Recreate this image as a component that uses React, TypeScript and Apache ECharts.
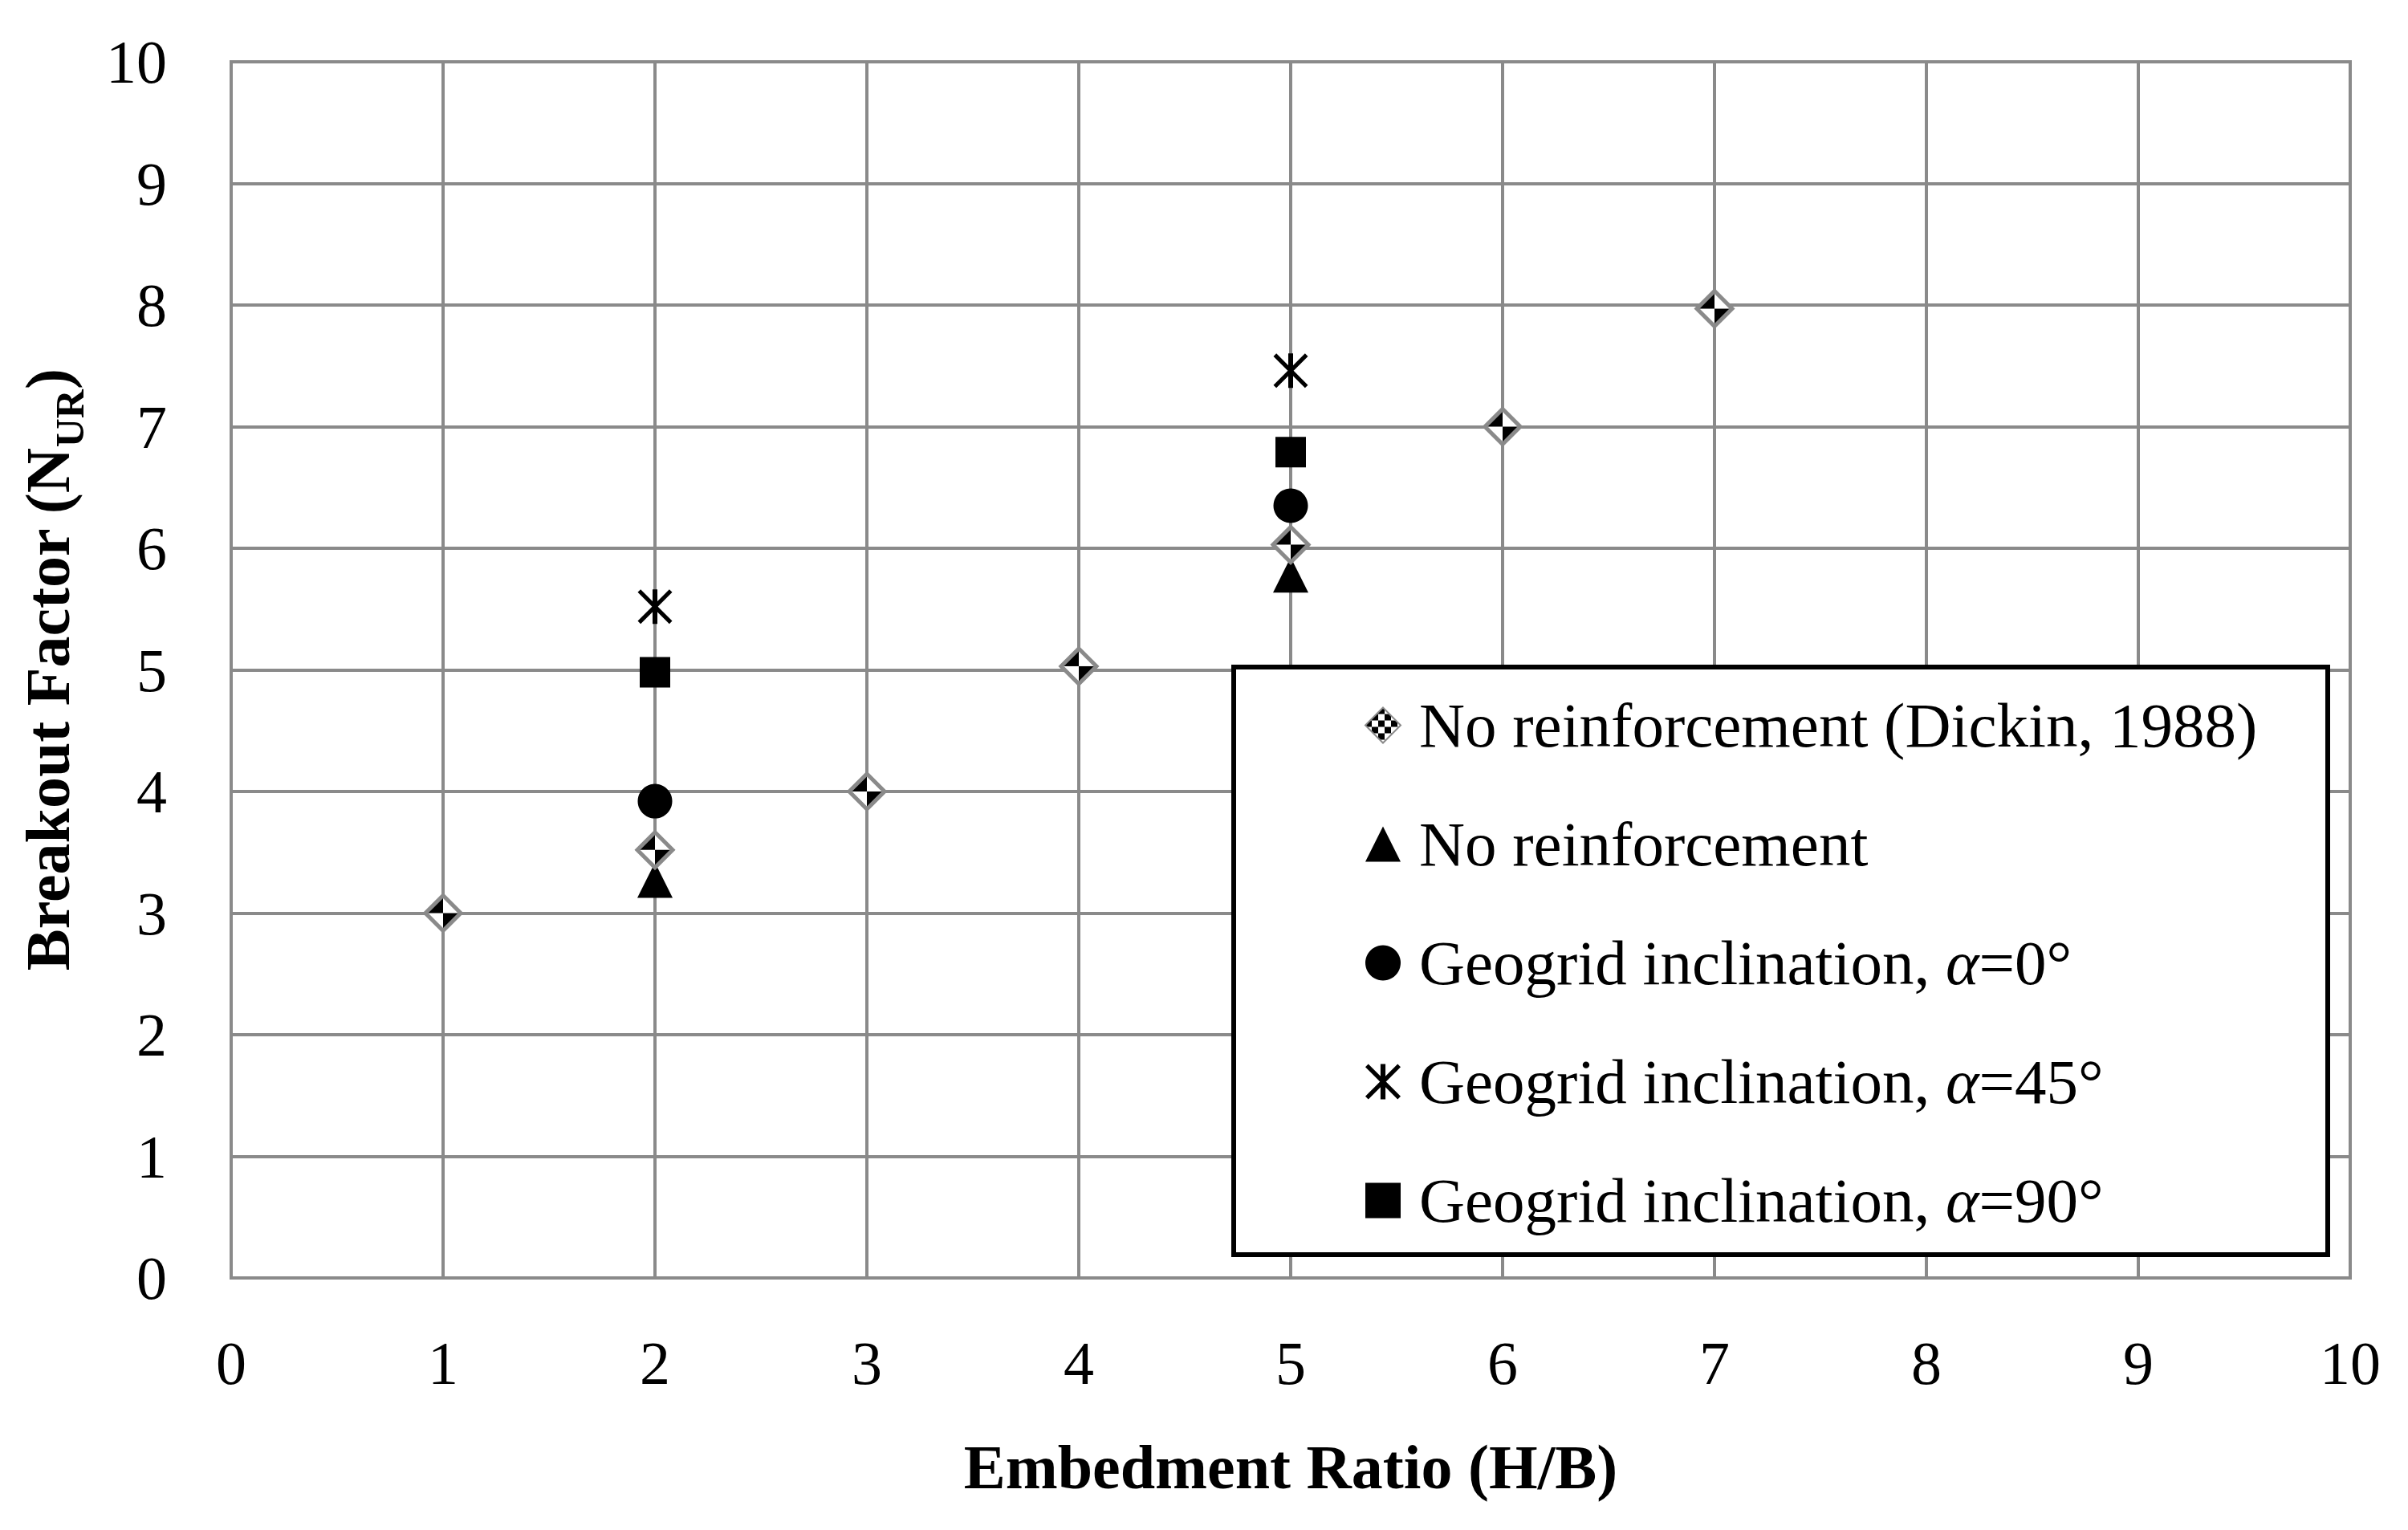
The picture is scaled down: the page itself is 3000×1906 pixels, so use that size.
import React, { useEffect, useRef } from "react";
import * as echarts from "echarts";

const xTicks = [0, 1, 2, 3, 4, 5, 6, 7, 8, 9, 10];
const yTicks = [0, 1, 2, 3, 4, 5, 6, 7, 8, 9, 10];

const seriesNames = [
  "No reinforcement (Dickin, 1988)",
  "No reinforcement",
  "Geogrid inclination, α=0°",
  "Geogrid inclination, α=45°",
  "Geogrid inclination, α=90°",
];

const dickinX = [1, 2, 3, 4, 5, 6, 7];
const dickinY = [3.0, 3.52, 4.0, 5.03, 6.03, 7.0, 7.97];

const testX = [2, 5];
const noReinfY = [3.27, 5.78];
const alpha0Y = [3.92, 6.35];
const alpha45Y = [5.52, 7.46];
const alpha90Y = [4.98, 6.79];

const FONT = "'Liberation Serif', 'Times New Roman', serif";
const GRID_COLOR = "#8a8a8a";

const STAR_PATH =
  "path://M43 0L57 0L57 100L43 100Z" +
  "M8.5 0L100 91.5L91.5 100L0 8.5Z" +
  "M91.5 0L100 8.5L8.5 100L0 91.5Z";

function pairs(xs: number[], ys: number[]) {
  return xs.map((x, i) => [x, ys[i]]);
}

function checker(): HTMLCanvasElement {
  const c = document.createElement("canvas");
  c.width = 16;
  c.height = 16;
  const ctx = c.getContext("2d")!;
  ctx.fillStyle = "#ffffff";
  ctx.fillRect(0, 0, 16, 16);
  ctx.fillStyle = "#000000";
  ctx.fillRect(0, 0, 8, 8);
  ctx.fillRect(8, 8, 8, 8);
  return c;
}

export default function App() {
  const ref = useRef<HTMLDivElement>(null);

  useEffect(() => {
    if (!ref.current) return;
    const chart = echarts.init(ref.current, undefined, { renderer: "svg" });
    const pattern: any = { image: checker(), repeat: "repeat" };

    const legendText = {
      fontFamily: FONT,
      fontSize: 79,
      color: "#000",
      lineHeight: 79,
    };

    const option: any = {
      animation: false,
      backgroundColor: "#ffffff",
      textStyle: { fontFamily: FONT, color: "#000" },
      grid: {
        left: 288,
        top: 77,
        right: 72,
        bottom: 314,
        show: true,
        borderColor: GRID_COLOR,
        borderWidth: 4,
        containLabel: false,
      },
      xAxis: {
        type: "value",
        min: xTicks[0],
        max: xTicks[xTicks.length - 1],
        interval: 1,
        name: "Embedment Ratio (H/B)",
        nameLocation: "middle",
        nameGap: 196,
        nameTextStyle: {
          fontFamily: FONT,
          fontWeight: "bold",
          fontSize: 78,
          color: "#000",
        },
        axisLine: { show: true, lineStyle: { color: GRID_COLOR, width: 4 } },
        axisTick: { show: false },
        axisLabel: {
          fontFamily: FONT,
          fontSize: 76,
          color: "#000",
          margin: 68,
        },
        splitLine: { show: true, lineStyle: { color: GRID_COLOR, width: 4 } },
      },
      yAxis: {
        type: "value",
        min: yTicks[0],
        max: yTicks[yTicks.length - 1],
        interval: 1,
        name: "{m|Breakout Factor (N}{s|UR}{m|)}",
        nameLocation: "middle",
        nameGap: 190,
        nameRotate: 90,
        nameTextStyle: {
          rich: {
            m: {
              fontFamily: FONT,
              fontWeight: "bold",
              fontSize: 78,
              color: "#000",
              lineHeight: 100,
              verticalAlign: "bottom",
            },
            s: {
              fontFamily: FONT,
              fontWeight: "bold",
              fontSize: 50,
              color: "#000",
              lineHeight: 100,
              verticalAlign: "bottom",
              padding: [0, 0, -14, 0],
            },
          },
        },
        axisLine: { show: true, lineStyle: { color: GRID_COLOR, width: 4 } },
        axisTick: { show: false },
        axisLabel: {
          fontFamily: FONT,
          fontSize: 76,
          color: "#000",
          margin: 80,
        },
        splitLine: { show: true, lineStyle: { color: GRID_COLOR, width: 4 } },
      },
      graphic: [
        {
          type: "rect",
          z: 3,
          shape: { x: 1537, y: 831, width: 1363, height: 732 },
          style: { fill: "#ffffff", stroke: "#000000", lineWidth: 6 },
        },
      ],
      legend: {
        z: 5,
        orient: "vertical",
        left: 1700,
        top: 864,
        padding: 0,
        itemWidth: 44,
        itemHeight: 44,
        itemGap: 69,
        data: seriesNames,
        formatter: (name: string) => {
          const idx = name.indexOf("α");
          if (idx < 0) return "{t|" + name + "}";
          return (
            "{t|" + name.slice(0, idx) + "}{i|α}{t|" + name.slice(idx + 1) + "}"
          );
        },
        textStyle: {
          ...legendText,
          padding: [0, 0, 0, 18],
          rich: {
            t: { ...legendText },
            i: { ...legendText, fontStyle: "italic" },
          },
        },
      },
      series: [
        {
          name: seriesNames[0],
          type: "scatter",
          z: 3,
          symbol: "diamond",
          symbolSize: 44,
          itemStyle: {
            color: pattern,
            borderColor: GRID_COLOR,
            borderWidth: 5,
            opacity: 1,
          },
          data: pairs(dickinX, dickinY),
        },
        {
          name: seriesNames[1],
          type: "scatter",
          z: 2,
          symbol: "triangle",
          symbolSize: 44,
          itemStyle: { color: "#000", opacity: 1 },
          data: pairs(testX, noReinfY),
        },
        {
          name: seriesNames[2],
          type: "scatter",
          symbol: "circle",
          symbolSize: 43,
          itemStyle: { color: "#000", opacity: 1 },
          data: pairs(testX, alpha0Y),
        },
        {
          name: seriesNames[3],
          type: "scatter",
          symbol: STAR_PATH,
          symbolSize: 43,
          itemStyle: { color: "#000", opacity: 1 },
          data: pairs(testX, alpha45Y),
        },
        {
          name: seriesNames[4],
          type: "scatter",
          symbol: "rect",
          symbolSize: 38,
          itemStyle: { color: "#000", opacity: 1 },
          data: pairs(testX, alpha90Y),
        },
      ],
    };

    chart.setOption(option);
    return () => chart.dispose();
  }, []);

  return (
    <div
      ref={ref}
      style={{ position: "absolute", left: 0, top: 0, width: 3000, height: 1906 }}
    />
  );
}
